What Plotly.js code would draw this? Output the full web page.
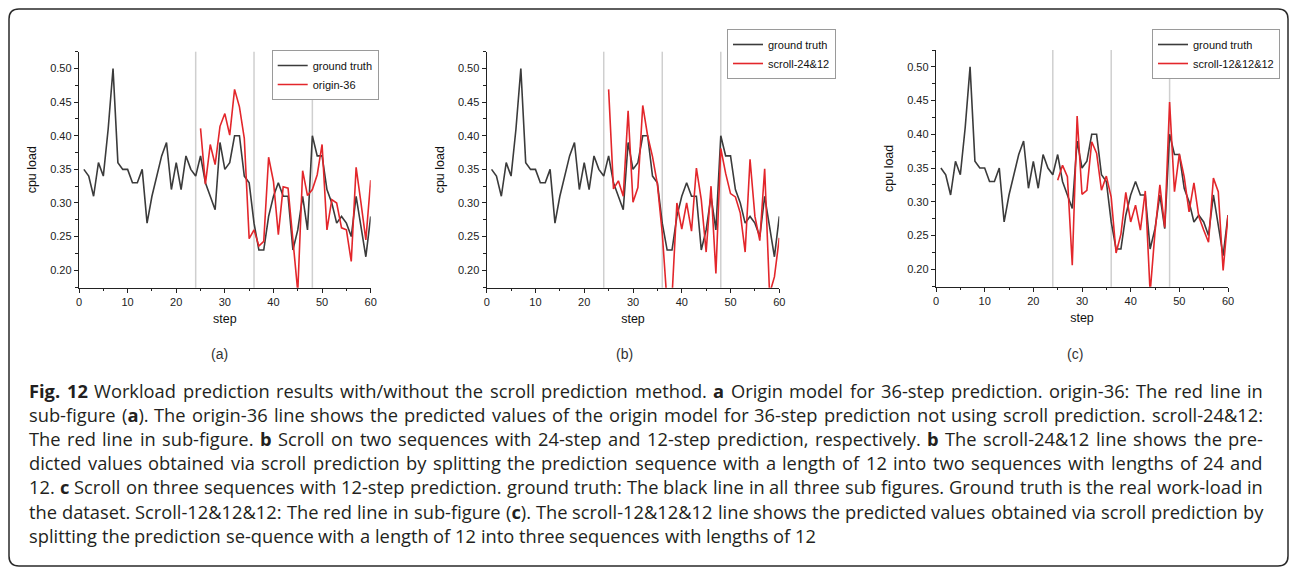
<!DOCTYPE html>
<html>
<head>
<meta charset="utf-8">
<script src="https://cdn.plot.ly/plotly-3.0.1.min.js"></script>
<style>html,body{margin:0;padding:0;background:#fff}</style>
</head>
<body>
<div id="fig" style="width:1290px;height:571px"></div>
<script>
// step index of every ground-truth sample
const steps = [1,2,3,4,5,6,7,8,9,10,11,12,13,14,15,16,17,18,19,20,
  21,22,23,24,25,26,27,28,29,30,31,32,33,34,35,36,37,38,39,40,
  41,42,43,44,45,46,47,48,49,50,51,52,53,54,55,56,57,58,59,60];
// steps covered by the predictions
const predSteps = [25,26,27,28,29,30,31,32,33,34,35,36,37,38,39,40,41,42,
  43,44,45,46,47,48,49,50,51,52,53,54,55,56,57,58,59,60];

const groundTruth = [0.35,0.34,0.31,0.36,0.34,0.41,0.50,0.36,0.35,0.35,
  0.33,0.33,0.35,0.27,0.31,0.34,0.37,0.39,0.32,0.36,
  0.32,0.37,0.35,0.34,0.37,0.33,0.31,0.29,0.39,0.35,
  0.36,0.40,0.40,0.34,0.33,0.27,0.23,0.23,0.28,0.31,
  0.33,0.31,0.31,0.23,0.26,0.31,0.26,0.40,0.37,0.37,
  0.32,0.30,0.27,0.28,0.27,0.25,0.31,0.265,0.22,0.28];

const origin36 = [0.411,0.328,0.387,0.357,0.414,0.433,0.401,0.469,0.443,0.396,
  0.247,0.260,0.236,0.243,0.368,0.332,0.253,0.324,0.322,0.245,
  0.168,0.348,0.311,0.320,0.342,0.387,0.260,0.305,0.300,0.263,
  0.260,0.213,0.353,0.300,0.245,0.334];

const scroll24and12 = [0.469,0.321,0.333,0.310,0.437,0.301,0.323,0.445,0.400,0.369,
  0.328,0.255,0.150,0.160,0.300,0.261,0.300,0.258,0.352,0.305,
  0.227,0.325,0.195,0.381,0.344,0.314,0.309,0.285,0.227,0.365,
  0.280,0.244,0.351,0.165,0.190,0.248];

const scroll12x3 = [0.332,0.354,0.337,0.206,0.427,0.311,0.317,0.389,0.372,0.317,
  0.338,0.307,0.224,0.252,0.314,0.270,0.295,0.258,0.316,0.165,
  0.255,0.325,0.262,0.448,0.315,0.371,0.337,0.285,0.328,0.278,
  0.258,0.240,0.335,0.315,0.198,0.280];

const splitSteps = [24, 36, 48];
const predNames = ['origin-36', 'scroll-24&12', 'scroll-12&12&12'];
const predSeries = [origin36, scroll24and12, scroll12x3];
const panelLabels = ['(a)', '(b)', '(c)'];

// caption text, one entry per printed line (bold marked word by word)
const captionLines = [
  '<b>Fig.</b> <b>12</b> Workload prediction results with/without the scroll prediction method. <b>a</b> Origin model for 36-step prediction. origin-36: The red line in',
  'sub-figure (<b>a</b>). The origin-36 line shows the predicted values of the origin model for 36-step prediction not using scroll prediction. scroll-24&amp;12:',
  'The red line in sub-figure. <b>b</b> Scroll on two sequences with 24-step and 12-step prediction, respectively. <b>b</b> The scroll-24&amp;12 line shows the pre-',
  'dicted values obtained via scroll prediction by splitting the prediction sequence with a length of 12 into two sequences with lengths of 24 and',
  '12. <b>c</b> Scroll on three sequences with 12-step prediction. ground truth: The black line in all three sub figures. Ground truth is the real work-load in',
  'the dataset. Scroll-12&amp;12&amp;12: The red line in sub-figure (<b>c</b>). The scroll-12&amp;12&amp;12 line shows the predicted values obtained via scroll prediction by',
  'splitting the prediction se-quence with a length of 12 into three sequences with lengths of 12'
];

// ---- page geometry (pixels) ----
const W = 1290, H = 571;
const px = v => v / W;
const py = v => 1 - v / H;

const panels = [
  {x0: 79,    x1: 370.7,  y0: 51.7, y1: 287.7, legend: {x: 271.7, y: 50}, label: 219},
  {x0: 486.7, x1: 779.3,  y0: 51.7, y1: 287.7, legend: {x: 727,   y: 29}, label: 624},
  {x0: 936,   x1: 1228,   y0: 50,   y1: 286.7, legend: {x: 1152,  y: 29}, label: 1075}
];

const BLACK = '#3b3b3b';
const RED = '#e3262b';
const AXIS = '#222222';
const tickFont = {family: 'Liberation Sans, Arial, sans-serif', size: 11, color: '#222'};
const titleFont = {family: 'Liberation Sans, Arial, sans-serif', size: 12.5, color: '#111'};

const traces = [];
const layout = {
  width: W, height: H,
  margin: {l: 0, r: 0, t: 0, b: 0, pad: 0},
  paper_bgcolor: '#fff', plot_bgcolor: '#fff',
  showlegend: true,
  shapes: [], annotations: []
};

panels.forEach((p, i) => {
  const n = i === 0 ? '' : String(i + 1);
  const legendId = 'legend' + n;
  traces.push({
    x: steps, y: groundTruth, type: 'scatter', mode: 'lines',
    name: 'ground truth', xaxis: 'x' + n, yaxis: 'y' + n, legend: legendId,
    line: {color: BLACK, width: 1.6}
  });
  traces.push({
    x: predSteps, y: predSeries[i], type: 'scatter', mode: 'lines',
    name: predNames[i], xaxis: 'x' + n, yaxis: 'y' + n, legend: legendId,
    line: {color: RED, width: 1.6}
  });

  layout['xaxis' + n] = {
    domain: [px(p.x0), px(p.x1)], anchor: 'y' + n,
    range: [0, 60], tick0: 0, dtick: 10,
    showline: true, linecolor: AXIS, linewidth: 1.2,
    ticks: 'outside', ticklen: 4, tickwidth: 1, tickcolor: AXIS,
    minor: {ticks: 'outside', dtick: 5, ticklen: 2.5, tickcolor: AXIS},
    showgrid: false, zeroline: false, mirror: false,
    tickfont: tickFont,
    title: {text: 'step', font: titleFont, standoff: 7}
  };
  layout['yaxis' + n] = {
    domain: [py(p.y1), py(p.y0)], anchor: 'x' + n,
    range: [0.174, 0.525], tick0: 0, dtick: 0.05, tickformat: '.2f',
    showline: true, linecolor: AXIS, linewidth: 1.2,
    ticks: 'outside', ticklen: 4, tickwidth: 1, tickcolor: AXIS,
    minor: {ticks: 'outside', dtick: 0.025, ticklen: 2.5, tickcolor: AXIS},
    showgrid: false, zeroline: false, mirror: false,
    tickfont: tickFont,
    title: {text: 'cpu load', font: titleFont, standoff: 10}
  };
  layout[legendId] = {
    x: px(p.legend.x), y: py(p.legend.y), xanchor: 'left', yanchor: 'top',
    xref: 'paper', yref: 'paper',
    bgcolor: '#fff', bordercolor: '#9a9a9a', borderwidth: 1,
    font: {family: 'Liberation Sans, Arial, sans-serif', size: 11, color: '#111'},
    itemwidth: 30, tracegroupgap: 0
  };

  // light separators at the prediction split points
  splitSteps.forEach(s => {
    layout.shapes.push({
      type: 'line', xref: 'x' + n, yref: 'y' + n + ' domain',
      x0: s, x1: s, y0: 0, y1: 1, layer: 'below',
      line: {color: '#cfcfcf', width: 1.5}
    });
  });

  layout.annotations.push({
    text: panelLabels[i], xref: 'paper', yref: 'paper',
    x: px(p.label), y: py(354), xanchor: 'center', yanchor: 'middle',
    showarrow: false,
    font: {family: 'Liberation Sans, Arial, sans-serif', size: 14, color: '#333'}
  });
});

// ---- justified caption: every word placed on its own ----
const CAP_FAMILY = 'Open Sans';
const CAP_SIZE = 18.3;
const capLeft = 28, capRight = 1262, capTop = 390, capStep = 24.2;
const ctx = document.createElement('canvas').getContext('2d');

function wordWidth(word) {
  let w = 0, bold = false;
  word.split(/(<b>|<\/b>)/).forEach(part => {
    if (part === '<b>') { bold = true; return; }
    if (part === '</b>') { bold = false; return; }
    if (!part) return;
    ctx.font = (bold ? 'bold ' : '') + CAP_SIZE + 'px "' + CAP_FAMILY + '"';
    w += ctx.measureText(part.replace(/&amp;/g, '&')).width;
  });
  return w;
}

ctx.font = CAP_SIZE + 'px "' + CAP_FAMILY + '"';
const spaceWidth = ctx.measureText(' ').width;

captionLines.forEach((line, k) => {
  const words = line.split(' ');
  const widths = words.map(wordWidth);
  const used = widths.reduce((a, b) => a + b, 0);
  const isLast = k === captionLines.length - 1;
  const gap = isLast ? spaceWidth : (capRight - capLeft - used) / (words.length - 1);
  let x = capLeft;
  words.forEach((word, j) => {
    layout.annotations.push({
      text: word, xref: 'paper', yref: 'paper',
      x: px(x), y: py(capTop + k * capStep), xanchor: 'left', yanchor: 'middle',
      showarrow: false, borderpad: 0,
      font: {family: CAP_FAMILY, size: CAP_SIZE, color: '#231f20'}
    });
    x += widths[j] + gap;
  });
});

// rounded frame around the whole figure
(function () {
  const L = 9, T = 9, R = 1288, B = 566, r = 10;
  const path = [
    `M ${px(L + r)} ${py(T)}`,
    `L ${px(R - r)} ${py(T)}`,
    `Q ${px(R)} ${py(T)} ${px(R)} ${py(T + r)}`,
    `L ${px(R)} ${py(B - r)}`,
    `Q ${px(R)} ${py(B)} ${px(R - r)} ${py(B)}`,
    `L ${px(L + r)} ${py(B)}`,
    `Q ${px(L)} ${py(B)} ${px(L)} ${py(B - r)}`,
    `L ${px(L)} ${py(T + r)}`,
    `Q ${px(L)} ${py(T)} ${px(L + r)} ${py(T)}`, 'Z'
  ].join(' ');
  layout.shapes.push({type: 'path', xref: 'paper', yref: 'paper', path: path,
    line: {color: '#2a2a2a', width: 1.5}, fillcolor: 'rgba(0,0,0,0)', layer: 'above'});
})();

Plotly.newPlot('fig', traces, layout, {staticPlot: true, displayModeBar: false});
</script>
</body>
</html>
